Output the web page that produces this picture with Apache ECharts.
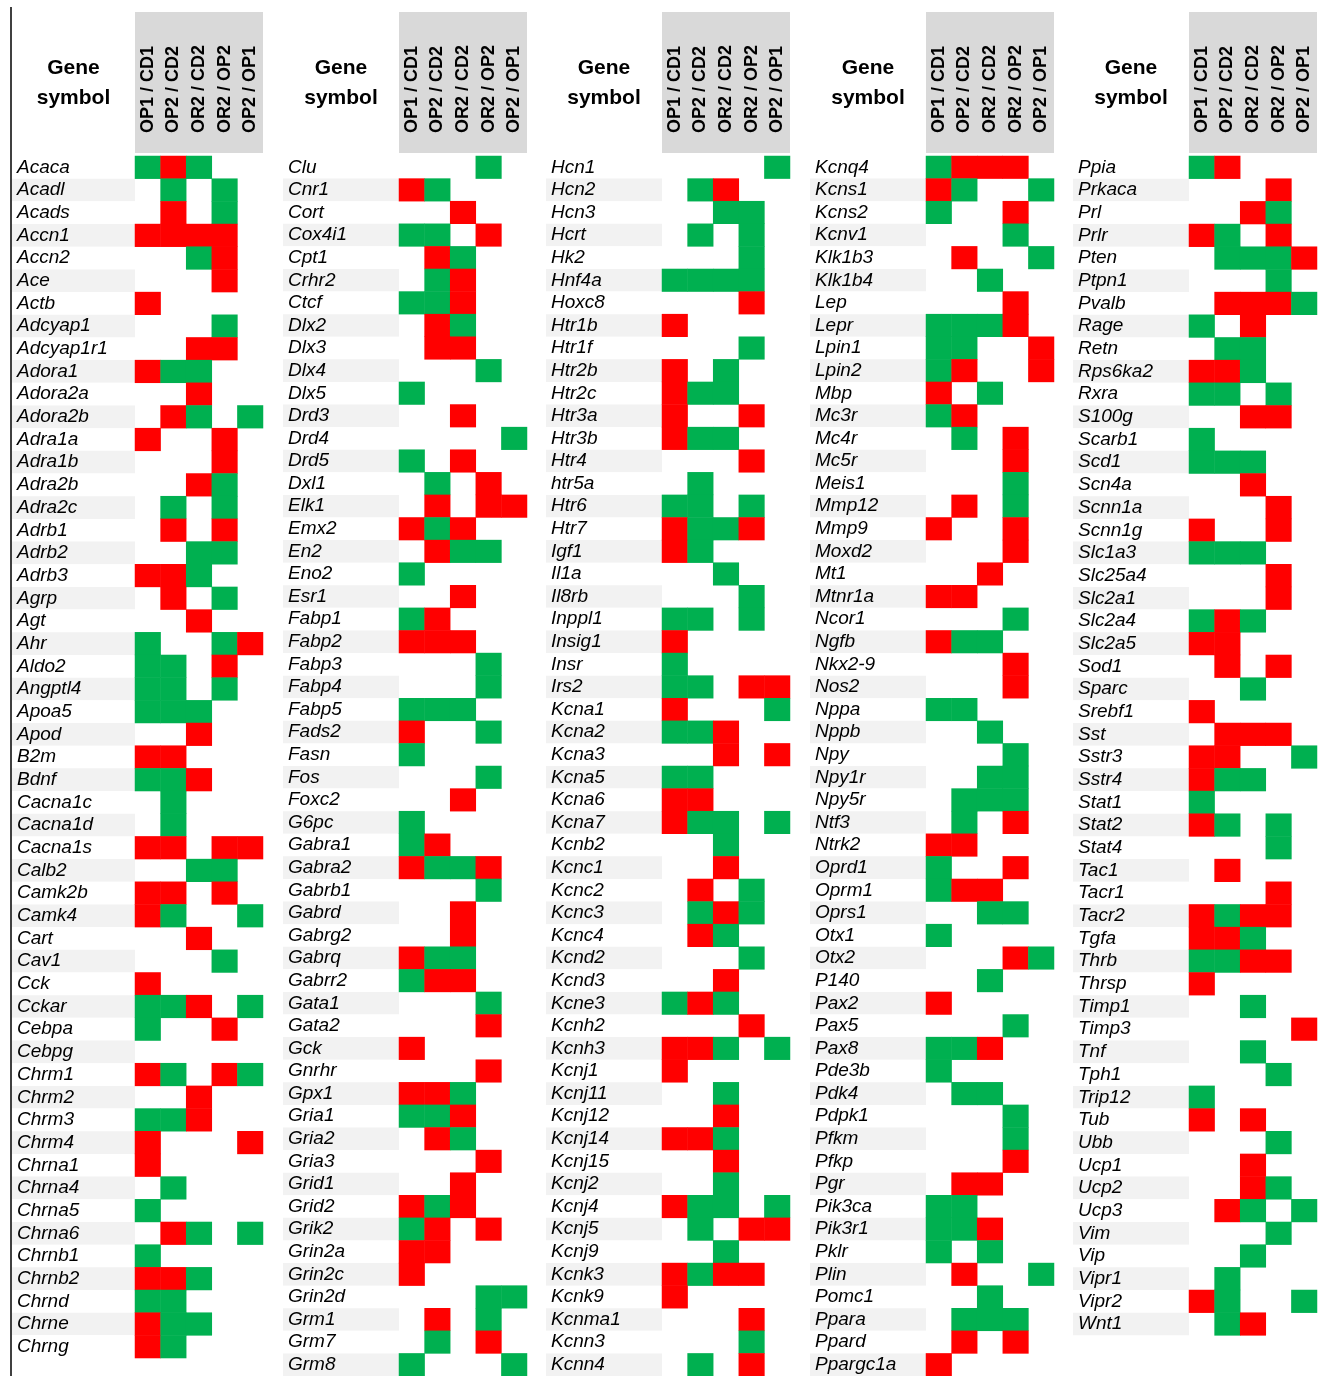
<!DOCTYPE html>
<html><head><meta charset="utf-8">
<script src="https://cdn.jsdelivr.net/npm/echarts@6/dist/echarts.min.js"></script>
<style>html,body{margin:0;padding:0;background:#fff}#c{width:1324px;height:1376px}</style>
</head><body><div id="c"></div>
<script>
// Column (comparison) labels
const comparisons = ['OP1 / CD1', 'OP2 / CD2', 'OR2 / CD2', 'OR2 / OP2', 'OP2 / OP1'];
// 1 = green, -1 = red, 0 = no change
const genes1 = ['Acaca','Acadl','Acads','Accn1','Accn2','Ace','Actb','Adcyap1','Adcyap1r1','Adora1','Adora2a','Adora2b','Adra1a','Adra1b','Adra2b','Adra2c','Adrb1','Adrb2','Adrb3','Agrp','Agt','Ahr','Aldo2','Angptl4','Apoa5','Apod','B2m','Bdnf','Cacna1c','Cacna1d','Cacna1s','Calb2','Camk2b','Camk4','Cart','Cav1','Cck','Cckar','Cebpa','Cebpg','Chrm1','Chrm2','Chrm3','Chrm4','Chrna1','Chrna4','Chrna5','Chrna6','Chrnb1','Chrnb2','Chrnd','Chrne','Chrng'];
const values1 = [
[1,-1,1,0,0],[0,1,0,1,0],[0,-1,0,1,0],[-1,-1,-1,-1,0],[0,0,1,-1,0],[0,0,0,-1,0],[-1,0,0,0,0],[0,0,0,1,0],[0,0,-1,-1,0],[-1,1,1,0,0],
[0,0,-1,0,0],[0,-1,1,0,1],[-1,0,0,-1,0],[0,0,0,-1,0],[0,0,-1,1,0],[0,1,0,1,0],[0,-1,0,-1,0],[0,0,1,1,0],[-1,-1,1,0,0],[0,-1,0,1,0],
[0,0,-1,0,0],[1,0,0,1,-1],[1,1,0,-1,0],[1,1,0,1,0],[1,1,1,0,0],[0,0,-1,0,0],[-1,-1,0,0,0],[1,1,-1,0,0],[0,1,0,0,0],[0,1,0,0,0],
[-1,-1,0,-1,-1],[0,0,1,1,0],[-1,-1,0,-1,0],[-1,1,0,0,1],[0,0,-1,0,0],[0,0,0,1,0],[-1,0,0,0,0],[1,1,-1,0,1],[1,0,0,-1,0],[0,0,0,0,0],
[-1,1,0,-1,1],[0,0,-1,0,0],[1,1,-1,0,0],[-1,0,0,0,-1],[-1,0,0,0,0],[0,1,0,0,0],[1,0,0,0,0],[0,-1,1,0,1],[1,0,0,0,0],[-1,-1,1,0,0],
[1,1,0,0,0],[-1,1,1,0,0],[-1,1,0,0,0]];
const genes2 = ['Clu','Cnr1','Cort','Cox4i1','Cpt1','Crhr2','Ctcf','Dlx2','Dlx3','Dlx4','Dlx5','Drd3','Drd4','Drd5','Dxl1','Elk1','Emx2','En2','Eno2','Esr1','Fabp1','Fabp2','Fabp3','Fabp4','Fabp5','Fads2','Fasn','Fos','Foxc2','G6pc','Gabra1','Gabra2','Gabrb1','Gabrd','Gabrg2','Gabrq','Gabrr2','Gata1','Gata2','Gck','Gnrhr','Gpx1','Gria1','Gria2','Gria3','Grid1','Grid2','Grik2','Grin2a','Grin2c','Grin2d','Grm1','Grm7','Grm8'];
const values2 = [
[0,0,0,1,0],[-1,1,0,0,0],[0,0,-1,0,0],[1,1,0,-1,0],[0,-1,1,0,0],[0,1,-1,0,0],[1,1,-1,0,0],[0,-1,1,0,0],[0,-1,-1,0,0],[0,0,0,1,0],
[1,0,0,0,0],[0,0,-1,0,0],[0,0,0,0,1],[1,0,-1,0,0],[0,1,0,-1,0],[0,-1,0,-1,-1],[-1,1,-1,0,0],[0,-1,1,1,0],[1,0,0,0,0],[0,0,-1,0,0],
[1,-1,0,0,0],[-1,-1,-1,0,0],[0,0,0,1,0],[0,0,0,1,0],[1,1,1,0,0],[-1,0,0,1,0],[1,0,0,0,0],[0,0,0,1,0],[0,0,-1,0,0],[1,0,0,0,0],
[1,-1,0,0,0],[-1,1,1,-1,0],[0,0,0,1,0],[0,0,-1,0,0],[0,0,-1,0,0],[-1,1,1,0,0],[1,-1,-1,0,0],[0,0,0,1,0],[0,0,0,-1,0],[-1,0,0,0,0],
[0,0,0,-1,0],[-1,-1,1,0,0],[1,1,-1,0,0],[0,-1,1,0,0],[0,0,0,-1,0],[0,0,-1,0,0],[-1,1,-1,0,0],[1,-1,0,-1,0],[-1,-1,0,0,0],[-1,0,0,0,0],
[0,0,0,1,1],[0,-1,0,1,0],[0,1,0,-1,0],[1,0,0,0,1]];
const genes3 = ['Hcn1','Hcn2','Hcn3','Hcrt','Hk2','Hnf4a','Hoxc8','Htr1b','Htr1f','Htr2b','Htr2c','Htr3a','Htr3b','Htr4','htr5a','Htr6','Htr7','Igf1','Il1a','Il8rb','Inppl1','Insig1','Insr','Irs2','Kcna1','Kcna2','Kcna3','Kcna5','Kcna6','Kcna7','Kcnb2','Kcnc1','Kcnc2','Kcnc3','Kcnc4','Kcnd2','Kcnd3','Kcne3','Kcnh2','Kcnh3','Kcnj1','Kcnj11','Kcnj12','Kcnj14','Kcnj15','Kcnj2','Kcnj4','Kcnj5','Kcnj9','Kcnk3','Kcnk9','Kcnma1','Kcnn3','Kcnn4'];
const values3 = [
[0,0,0,0,1],[0,1,-1,0,0],[0,0,1,1,0],[0,1,0,1,0],[0,0,0,1,0],[1,1,1,1,0],[0,0,0,-1,0],[-1,0,0,0,0],[0,0,0,1,0],[-1,0,1,0,0],
[-1,1,1,0,0],[-1,0,0,-1,0],[-1,1,1,0,0],[0,0,0,-1,0],[0,1,0,0,0],[1,1,0,1,0],[-1,1,1,-1,0],[-1,1,0,0,0],[0,0,1,0,0],[0,0,0,1,0],
[1,1,0,1,0],[-1,0,0,0,0],[1,0,0,0,0],[1,1,0,-1,-1],[-1,0,0,0,1],[1,1,-1,0,0],[0,0,-1,0,-1],[1,1,0,0,0],[-1,-1,0,0,0],[-1,1,1,0,1],
[0,0,1,0,0],[0,0,-1,0,0],[0,-1,0,1,0],[0,1,-1,1,0],[0,-1,1,0,0],[0,0,0,1,0],[0,0,-1,0,0],[1,-1,1,0,0],[0,0,0,-1,0],[-1,-1,1,0,1],
[-1,0,0,0,0],[0,0,1,0,0],[0,0,-1,0,0],[-1,-1,1,0,0],[0,0,-1,0,0],[0,0,1,0,0],[-1,1,1,0,1],[0,1,0,-1,-1],[0,0,1,0,0],[-1,1,-1,-1,0],
[-1,0,0,0,0],[0,0,0,-1,0],[0,0,0,1,0],[0,1,0,-1,0]];
const genes4 = ['Kcnq4','Kcns1','Kcns2','Kcnv1','Klk1b3','Klk1b4','Lep','Lepr','Lpin1','Lpin2','Mbp','Mc3r','Mc4r','Mc5r','Meis1','Mmp12','Mmp9','Moxd2','Mt1','Mtnr1a','Ncor1','Ngfb','Nkx2-9','Nos2','Nppa','Nppb','Npy','Npy1r','Npy5r','Ntf3','Ntrk2','Oprd1','Oprm1','Oprs1','Otx1','Otx2','P140','Pax2','Pax5','Pax8','Pde3b','Pdk4','Pdpk1','Pfkm','Pfkp','Pgr','Pik3ca','Pik3r1','Pklr','Plin','Pomc1','Ppara','Ppard','Ppargc1a'];
const values4 = [
[1,-1,-1,-1,0],[-1,1,0,0,1],[1,0,0,-1,0],[0,0,0,1,0],[0,-1,0,0,1],[0,0,1,0,0],[0,0,0,-1,0],[1,1,1,-1,0],[1,1,0,0,-1],[1,-1,0,0,-1],
[-1,0,1,0,0],[1,-1,0,0,0],[0,1,0,-1,0],[0,0,0,-1,0],[0,0,0,1,0],[0,-1,0,1,0],[-1,0,0,-1,0],[0,0,0,-1,0],[0,0,-1,0,0],[-1,-1,0,0,0],
[0,0,0,1,0],[-1,1,1,0,0],[0,0,0,-1,0],[0,0,0,-1,0],[1,1,0,0,0],[0,0,1,0,0],[0,0,0,1,0],[0,0,1,1,0],[0,1,1,1,0],[0,1,0,-1,0],
[-1,-1,0,0,0],[1,0,0,-1,0],[1,-1,-1,0,0],[0,0,1,1,0],[1,0,0,0,0],[0,0,0,-1,1],[0,0,1,0,0],[-1,0,0,0,0],[0,0,0,1,0],[1,1,-1,0,0],
[1,0,0,0,0],[0,1,1,0,0],[0,0,0,1,0],[0,0,0,1,0],[0,0,0,-1,0],[0,-1,-1,0,0],[1,1,0,0,0],[1,1,-1,0,0],[1,0,1,0,0],[0,-1,0,0,1],
[0,0,1,0,0],[0,1,1,1,0],[0,-1,0,-1,0],[-1,0,0,0,0]];
const genes5 = ['Ppia','Prkaca','Prl','Prlr','Pten','Ptpn1','Pvalb','Rage','Retn','Rps6ka2','Rxra','S100g','Scarb1','Scd1','Scn4a','Scnn1a','Scnn1g','Slc1a3','Slc25a4','Slc2a1','Slc2a4','Slc2a5','Sod1','Sparc','Srebf1','Sst','Sstr3','Sstr4','Stat1','Stat2','Stat4','Tac1','Tacr1','Tacr2','Tgfa','Thrb','Thrsp','Timp1','Timp3','Tnf','Tph1','Trip12','Tub','Ubb','Ucp1','Ucp2','Ucp3','Vim','Vip','Vipr1','Vipr2','Wnt1'];
const values5 = [
[1,-1,0,0,0],[0,0,0,-1,0],[0,0,-1,1,0],[-1,1,0,-1,0],[0,1,1,1,-1],[0,0,0,1,0],[0,-1,-1,-1,1],[1,0,-1,0,0],[0,1,1,0,0],[-1,-1,1,0,0],
[1,1,0,1,0],[0,0,-1,-1,0],[1,0,0,0,0],[1,1,1,0,0],[0,0,-1,0,0],[0,0,0,-1,0],[-1,0,0,-1,0],[1,1,1,0,0],[0,0,0,-1,0],[0,0,0,-1,0],
[1,-1,1,0,0],[-1,-1,0,0,0],[0,-1,0,-1,0],[0,0,1,0,0],[-1,0,0,0,0],[0,-1,-1,-1,0],[-1,-1,0,0,1],[-1,1,1,0,0],[1,0,0,0,0],[-1,1,0,1,0],
[0,0,0,1,0],[0,-1,0,0,0],[0,0,0,-1,0],[-1,1,-1,-1,0],[-1,-1,1,0,0],[1,1,-1,-1,0],[-1,0,0,0,0],[0,0,1,0,0],[0,0,0,0,-1],[0,0,1,0,0],
[0,0,0,1,0],[1,0,0,0,0],[-1,0,-1,0,0],[0,0,0,1,0],[0,0,-1,0,0],[0,0,-1,1,0],[0,-1,1,0,1],[0,0,0,1,0],[0,0,1,0,0],[0,1,0,0,0],
[-1,1,0,0,1],[0,1,-1,0,0]];

const panels = [[genes1, values1], [genes2, values2], [genes3, values3], [genes4, values4], [genes5, values5]];

// layout (pixels)
const dataLeft = [135, 399, 662, 926, 1189];
const labelLeft = [12, 283, 546, 810, 1073];
const gridTop = 156, rowH = 22.68, cellW = 25.6;
const FONT = 'Liberation Sans, Arial, sans-serif';

const grid = [], xAxis = [], yAxis = [], series = [], graphic = [];
panels.forEach(([genes, values], i) => {
  const h = genes.length * rowH;
  // label grid
  grid.push({left: labelLeft[i], top: gridTop, width: dataLeft[i] - labelLeft[i], height: h});
  xAxis.push({gridIndex: 2 * i, type: 'value', show: false, min: 0, max: 1});
  yAxis.push({gridIndex: 2 * i, type: 'category', data: genes, inverse: true,
    axisLine: {show: false}, axisTick: {show: false},
    splitArea: {show: true, interval: 0, areaStyle: {color: ['#ffffff', '#f2f2f2']}},
    axisLabel: {inside: true, interval: 0, margin: 5, fontStyle: 'italic', fontSize: 19,
      fontFamily: FONT, color: '#000'}});
  // data grid
  grid.push({left: dataLeft[i], top: gridTop, width: cellW * 5, height: h});
  xAxis.push({gridIndex: 2 * i + 1, type: 'category', data: comparisons, position: 'top',
    axisLine: {show: false}, axisTick: {show: false}, splitLine: {show: false},
    axisLabel: {rotate: -90, interval: 0, margin: 23, fontWeight: 'bold', fontSize: 18,
      fontFamily: FONT, color: '#000'}});
  yAxis.push({gridIndex: 2 * i + 1, type: 'category', data: genes, inverse: true, show: false});
  const data = [];
  values.forEach((row, r) => row.forEach((v, c) => { if (v !== 0) data.push([c, r, v]); }));
  series.push({type: 'heatmap', xAxisIndex: 2 * i + 1, yAxisIndex: 2 * i + 1, data: data,
    itemStyle: {borderWidth: 0}, emphasis: {disabled: true}});
  // header box + "Gene symbol"
  graphic.push({type: 'rect', z: -10, shape: {x: dataLeft[i], y: 12, width: cellW * 5, height: 141},
    style: {fill: '#d9d9d9'}});
  graphic.push({type: 'text', x: (labelLeft[i] + dataLeft[i]) / 2, y: 83,
    style: {text: 'Gene\nsymbol', font: 'bold 21px ' + FONT, fill: '#000', align: 'center',
      verticalAlign: 'middle', lineHeight: 30}});
});
graphic.push({type: 'line', shape: {x1: 11, y1: 7, x2: 11, y2: 1376}, style: {stroke: '#404040', lineWidth: 2}});

const chart = echarts.init(document.getElementById('c'), null, {renderer: 'canvas'});
chart.setOption({
  animation: false,
  backgroundColor: '#ffffff',
  grid, xAxis, yAxis, series, graphic,
  visualMap: {type: 'piecewise', show: false, dimension: 2, seriesIndex: [0, 1, 2, 3, 4],
    pieces: [{value: 1, color: '#00b050'}, {value: -1, color: '#ff0000'}]}
});
</script></body></html>
